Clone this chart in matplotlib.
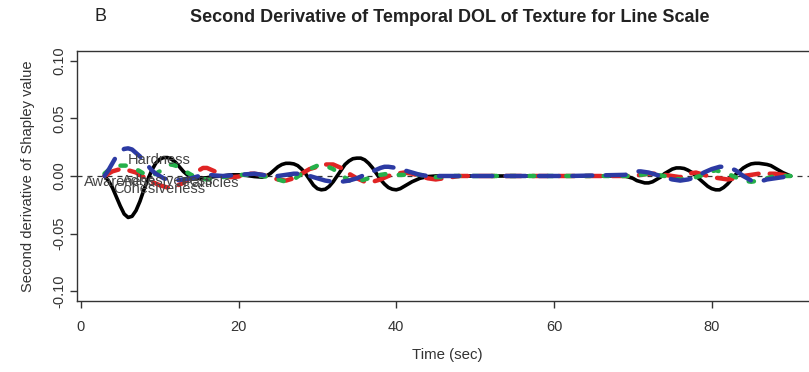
import matplotlib
matplotlib.use('Agg')
import matplotlib.pyplot as plt

# time points (sec) and second derivative values
t_black = [3, 3.5, 4, 4.5, 5, 5.5, 6, 6.5, 7, 7.5, 8, 8.5, 9, 9.5, 10, 10.5, 11, 11.5, 12, 12.5, 13,
           13.5, 14, 15, 16, 17, 18, 19, 20, 21, 22, 23, 23.5, 24, 24.5, 25, 25.5, 26, 26.5, 27, 27.5,
           28, 28.5, 29, 29.5, 30, 30.5, 31, 31.5, 32, 32.5, 33, 33.5, 34, 34.5, 35, 35.5, 36, 36.5,
           37, 37.5, 38, 38.5, 39, 39.5, 40, 40.5, 41, 41.5, 42, 43, 44, 45, 50, 55, 60, 65, 69, 69.5,
           70, 70.5, 71, 71.5, 72, 72.5, 73, 73.5, 74, 74.5, 75, 75.5, 76, 76.5, 77, 77.5, 78, 78.5,
           79, 79.5, 80, 80.5, 81, 81.5, 82, 82.5, 83, 83.5, 84, 84.5, 85, 85.5, 86, 86.5, 87, 87.5,
           88, 88.5, 89, 89.5, 90]
v_black = [0.0, -0.004, -0.010, -0.018, -0.026, -0.033, -0.036, -0.035, -0.030, -0.022, -0.012,
           -0.003, 0.005, 0.011, 0.0145, 0.016, 0.016, 0.0145, 0.012, 0.008, 0.004, 0.001, -0.001,
           -0.002, -0.0015, -0.0005, 0.0, 0.001, 0.001, 0.0005, -0.0005, -0.001, 0.0, 0.002, 0.005,
           0.008, 0.010, 0.011, 0.011, 0.0105, 0.009, 0.006, 0.002, -0.003, -0.008, -0.011, -0.012,
           -0.0115, -0.009, -0.005, 0.0, 0.005, 0.010, 0.013, 0.015, 0.0155, 0.0155, 0.014, 0.011,
           0.007, 0.002, -0.003, -0.007, -0.010, -0.0115, -0.012, -0.011, -0.009, -0.007, -0.005,
           -0.002, -0.0005, 0.0, 0.0, 0.0, 0.0, 0.0, 0.0, -0.001, -0.002, -0.004, -0.005, -0.006,
           -0.006, -0.005, -0.003, -0.001, 0.002, 0.004, 0.006, 0.007, 0.007, 0.0065, 0.005, 0.003,
           0.0, -0.003, -0.006, -0.009, -0.011, -0.012, -0.012, -0.010, -0.007, -0.003, 0.001, 0.004,
           0.007, 0.009, 0.0105, 0.011, 0.011, 0.0105, 0.010, 0.009, 0.007, 0.005, 0.003, 0.0015, 0.0]

t_red = [3, 4, 5, 6, 7, 8, 9, 10, 11, 12, 13, 14, 15, 15.5, 16, 17, 18, 19, 20, 21, 22, 23, 24, 25,
         26, 27, 28, 29, 30, 31, 32, 33, 34, 35, 36, 37, 38, 39, 40, 41, 42, 43, 44, 45, 46, 47, 48,
         55, 62, 70, 71, 72, 73, 74, 75, 76, 77, 78, 79, 80, 81, 82, 83, 84, 85, 86, 87, 88, 89, 90]
v_red = [0.0, 0.004, 0.006, 0.005, 0.003, -0.001, -0.005, -0.008, -0.010, -0.009, -0.006, -0.001,
         0.005, 0.007, 0.007, 0.004, 0.0, -0.001, -0.0005, 0.002, 0.002, 0.001, -0.001, -0.003,
         -0.004, -0.002, 0.002, 0.006, 0.008, 0.010, 0.010, 0.007, 0.002, -0.002, -0.005, -0.005,
         -0.003, 0.0, 0.002, 0.003, 0.002, 0.0, -0.002, -0.003, -0.002, -0.001, 0.0, 0.0, 0.0, 0.0,
         0.001, 0.002, 0.002, 0.001, 0.0, -0.001, 0.002, 0.003, 0.001, -0.001, -0.002, -0.003,
         -0.002, 0.0, 0.001, 0.002, 0.002, 0.002, 0.001, 0.0]

t_green = [3, 4, 5, 6, 7, 8, 9, 10, 11, 11.5, 12, 13, 14, 15, 16, 17, 18, 19, 20, 21, 22, 23, 24, 25,
           26, 27, 28, 29, 30, 30.5, 31, 32, 33, 34, 35, 36, 37, 38, 39, 40, 41, 42, 43, 44, 45, 46,
           47, 55, 62, 70, 71, 72, 73, 74, 75, 76, 77, 78, 79, 80, 80.5, 81, 82, 83, 84, 85, 86, 87,
           88, 90]
v_green = [0.002, 0.008, 0.009, 0.009, 0.006, 0.002, 0.0, 0.004, 0.009, 0.010, 0.009, 0.005, 0.001,
           -0.002, -0.003, -0.002, -0.001, 0.0, 0.001, 0.001, 0.0005, 0.0, -0.001, -0.003, -0.005,
           -0.003, 0.002, 0.006, 0.009, 0.010, 0.009, 0.006, 0.001, -0.004, -0.005, -0.003, -0.001,
           0.001, 0.002, 0.001, 0.001, 0.002, 0.001, 0.0, -0.001, -0.001, 0.0, 0.0, 0.0, 0.0, 0.001,
           0.002, 0.001, 0.0, -0.002, -0.003, -0.003, -0.001, 0.001, 0.004, 0.005, 0.004, 0.002,
           -0.001, -0.004, -0.005, -0.004, -0.002, 0.0, 0.0]

t_blue = [3, 3.5, 4, 4.5, 5, 5.5, 6, 6.5, 7, 7.5, 8, 8.5, 9, 9.5, 10, 10.5, 11, 12, 13, 14, 15, 16,
          17, 18, 19, 20, 21, 22, 23, 24, 25, 26, 27, 28, 29, 30, 31, 32, 33, 34, 35, 36, 37, 38,
          38.5, 39, 40, 41, 42, 43, 44, 55, 62, 69, 70, 70.5, 71, 72, 73, 74, 75, 76, 77, 78, 79,
          80, 81, 82, 83, 84, 85, 85.5, 86, 87, 88, 89, 90]
v_blue = [0.0, 0.005, 0.011, 0.017, 0.021, 0.0235, 0.024, 0.023, 0.020, 0.017, 0.013, 0.009, 0.005,
          0.002, 0.0, -0.002, -0.003, -0.004, -0.003, -0.002, 0.0, 0.001, 0.0005, 0.0, 0.0005, 0.001,
          0.0015, 0.002, 0.001, 0.0, 0.0, 0.001, 0.002, 0.002, 0.0, -0.002, -0.004, -0.005, -0.005,
          -0.004, -0.002, 0.001, 0.004, 0.007, 0.008, 0.008, 0.007, 0.005, 0.003, 0.001, 0.0, 0.0,
          0.0, 0.001, 0.003, 0.004, 0.004, 0.003, 0.001, -0.001, -0.003, -0.004, -0.003, -0.001,
          0.003, 0.006, 0.008, 0.008, 0.005, 0.0, -0.004, -0.005, -0.005, -0.003, -0.002, -0.001, 0.0]

# attribute labels that sit on top of each other near the start
label_names = ['Hardness', 'Awareness', 'Adhesiveness', 'Particles', 'Cohesiveness']
label_x = [10, 5, 11, 16.5, 10]
label_y = [0.0135, -0.0055, -0.0045, -0.006, -0.011]

x_ticks = [0, 20, 40, 60, 80]
y_ticks = [-0.10, -0.05, 0.00, 0.05, 0.10]

plt.rcParams['font.family'] = ['Liberation Sans', 'DejaVu Sans']

fig = plt.figure(figsize=(8.09, 3.72), dpi=100)
ax = fig.add_axes([0.0952, 0.1909, 0.916, 0.672])

ax.axhline(0, color='#333333', lw=0.9, ls=(0, (4, 4)), zorder=1)

ax.plot(t_black, v_black, color='black', lw=2.6, solid_capstyle='round', zorder=3)
ax.plot(t_red, v_red, color='#e02424', lw=3.2, ls=(0, (3.5, 2.5)), dash_capstyle='round', zorder=4)
ax.plot(t_green, v_green, color='#25b04a', lw=3.2, ls=(0, (1.2, 3)), dash_capstyle='round', zorder=5)
ax.plot(t_blue, v_blue, color='#2c3aa3', lw=3.2, ls=(0, (4.5, 3)), dash_capstyle='round', zorder=6)

for name, lx, ly in zip(label_names, label_x, label_y):
    ax.text(lx, ly, name, ha='center', va='center', fontsize=10.5, color='#444444', zorder=7)

ax.set_xlim(-0.48, 93.48)
ax.set_ylim(-0.1085, 0.1085)
ax.set_xticks(x_ticks)
ax.set_xticklabels([str(v) for v in x_ticks])
ax.set_yticks(y_ticks)
ax.set_yticklabels(['%.2f' % v for v in y_ticks], rotation=90, va='center')

for s in ax.spines.values():
    s.set_color('#333333')
    s.set_linewidth(1.0)

ax.tick_params(axis='both', direction='out', length=5, width=1.0, color='#333333',
               labelsize=10.5, labelcolor='#333333')
ax.tick_params(axis='x', pad=9)
ax.tick_params(axis='y', pad=3)

ax.set_xlabel('Time (sec)', fontsize=10.8, color='#333333', labelpad=10)
ax.set_ylabel('Second derivative of Shapley value', fontsize=10.6, color='#333333', labelpad=12)

fig.text(0.556, 0.952, 'Second Derivative of Temporal DOL of Texture for Line Scale',
         ha='center', va='center', fontsize=13, fontweight='bold', color='#222222')
fig.text(0.124, 0.955, 'B', ha='center', va='center', fontsize=13, color='#222222')

fig.savefig('out.png', dpi=100)
